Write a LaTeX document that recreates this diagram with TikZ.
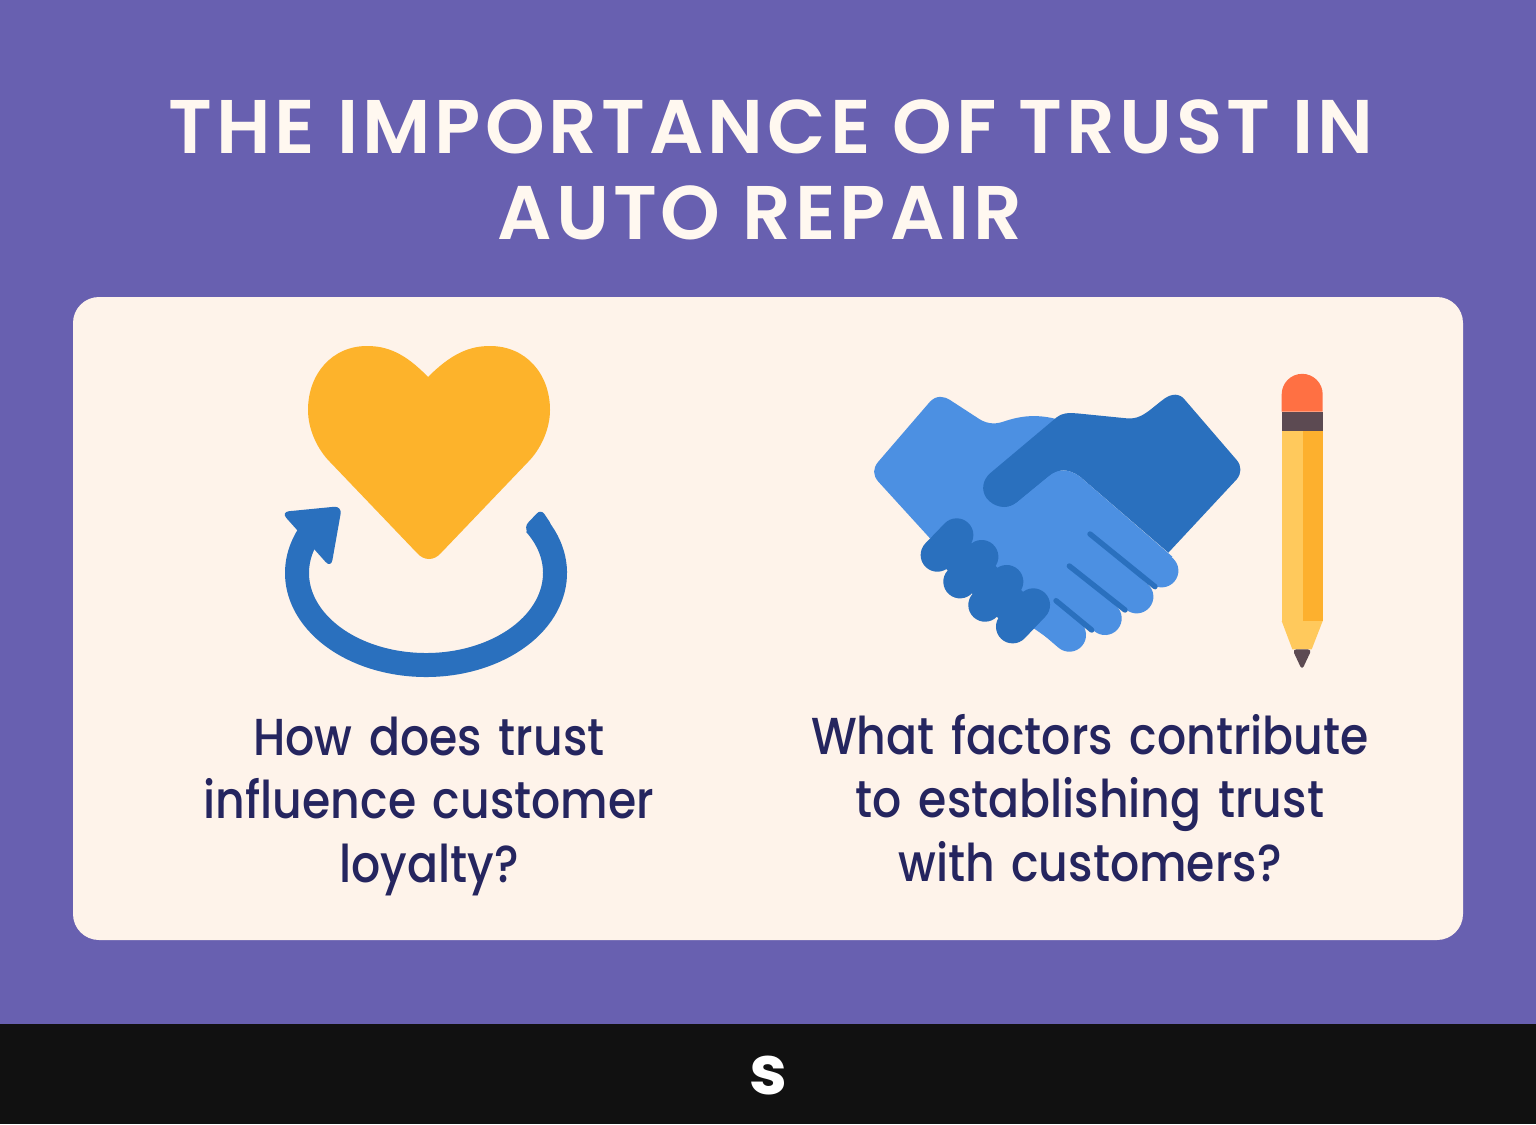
\documentclass[tikz,border=0pt]{standalone}
\usepackage{fontspec}
\setmainfont{Poppins}
\newfontfamily\titlefont[LetterSpace=5.3]{Poppins SemiBold}
\newfontfamily\askfont[FakeStretch=0.88,WordSpace=1.4]{Poppins Medium}
\definecolor{bgpurple}{HTML}{6860B0}
\definecolor{cardcream}{HTML}{FEF3EA}
\definecolor{inknavy}{HTML}{25255F}
\definecolor{barblack}{HTML}{111111}
\definecolor{titlewhite}{HTML}{FFF8F0}
\definecolor{heartgold}{HTML}{FDB32B}
\definecolor{handdark}{HTML}{2A70BE}
\definecolor{handlight}{HTML}{4C90E2}
\definecolor{eraser}{HTML}{FF7043}
\definecolor{ferrule}{HTML}{5C4A52}
\definecolor{pencillight}{HTML}{FFC95C}
\definecolor{pencildark}{HTML}{FDB02E}
\tikzset{
  titletext/.style={text=titlewhite,font=\titlefont\fontsize{38}{43}\selectfont},
  asktext/.style={text=inknavy,align=center,font=\askfont\fontsize{26}{31.75}\selectfont},
  knuckle/.style={draw=handdark,line width=16.7pt,line cap=round},
  finger/.style={draw=handlight,line width=16.7pt,line cap=round},
  crease/.style={draw=handdark,line width=2.7pt,line cap=round}
}
\begin{document}
\begin{tikzpicture}[x=0.5pt,y=-0.5pt]
  \useasboundingbox (0,0) rectangle (1536,1124);
  \fill[bgpurple] (0,0) rectangle (1536,1024);
  \fill[barblack] (0,1024) rectangle (1536,1124);
  \fill[cardcream,rounded corners=13pt] (73,297) rectangle (1463,940);
  \node[titletext] (headtop) at (771,127) {THE IMPORTANCE OF TRUST IN};
  \node[titletext] (headlow) at (760,213) {AUTO REPAIR};
  % heart and loop
  \fill[heartgold] (428,377) .. controls (405,353) and (387,346) .. (367,346)
    .. controls (332,346) and (308,374) .. (308,410)
    .. controls (308,430) and (318,450) .. (330,462)
    -- (417,553) .. controls (424,561) and (434,561) .. (441,553)
    -- (528,462) .. controls (540,450) and (550,430) .. (550,410)
    .. controls (550,374) and (526,346) .. (490,346)
    .. controls (470,346) and (452,353) .. cycle;
  \draw[handdark,line width=12pt] (426,573) ++(-32:129 and 92)
    arc[start angle=-32,end angle=212,x radius=129,y radius=92];
  \fill[handdark,rounded corners=3pt] (524,527) -- (541,509) -- (553,527) -- (534,542) -- cycle;
  \fill[handdark,rounded corners=4pt] (281,512) -- (342,506) -- (331,568) -- cycle;
  % handshake
  \begin{scope}[shift={(860,360)},x=0.16667pt,y=-0.16667pt]
    \fill[handlight] (210,125) .. controls (230,105) and (250,108) .. (270,120)
      -- (350,172) .. controls (375,190) and (400,195) .. (430,185)
      .. controls (480,168) and (530,160) .. (600,180)
      -- (600,500) -- (210,535) -- (55,365)
      .. controls (38,345) and (38,325) .. (55,305) -- cycle;
    \fill[handdark] (590,172) .. controls (605,160) and (620,158) .. (650,160)
      -- (800,175) .. controls (830,178) and (850,165) .. (870,150)
      -- (905,122) .. controls (935,97) and (960,100) .. (975,120)
      -- (1130,300) .. controls (1145,318) and (1145,340) .. (1130,358)
      -- (925,578) -- (660,350) .. controls (625,325) and (595,325) .. (565,350)
      -- (470,428) .. controls (440,452) and (400,440) .. (380,415)
      .. controls (362,390) and (368,360) .. (390,340) -- cycle;
    \fill[handlight] (470,428) -- (565,350) .. controls (595,325) and (625,325) .. (660,350)
      -- (937,590) -- (600,860) -- (500,790) -- (210,530) -- (340,400)
      .. controls (390,450) and (440,452) .. cycle;
    \foreach \x/\y in {905/632,830/710,735/775,628/825}
      \draw[finger] (\x,\y) -- ++(-250,-215);
    \foreach \x/\y/\u/\v in {690/522/885/680,628/618/795/750,588/722/695/810}
      \draw[crease] (\x,\y) -- (\u,\v);
    \foreach \x/\y/\u/\v in {232/585/290/525,300/665/365/590,375/735/440/665,458/800/520/735}
      \draw[knuckle] (\x,\y) -- (\u,\v);
    \draw[handdark,line width=18pt] (261,555) -- (470,752);
    % pencil
    \fill[eraser] (1265,155) -- (1265,103) arc[start angle=180,end angle=360,radius=61.5] -- (1388,155) -- cycle;
    \fill[ferrule] (1265,155) rectangle (1388,212);
    \fill[pencillight] (1265,212) rectangle (1328,783);
    \fill[pencildark] (1328,212) rectangle (1388,783);
    \fill[pencillight] (1265,783) -- (1388,783) -- (1355,868) -- (1297,868) -- cycle;
    \fill[ferrule,rounded corners=2pt] (1297,868) -- (1355,868) -- (1326,930) -- cycle;
  \end{scope}
  \node[asktext] (loyalty) at (429,806) {How does trust\\influence customer\\loyalty?};
  \node[asktext] (factors) at (1090,798) {What factors contribute\\to establishing trust\\with customers?};
  \node[text=white,font=\bfseries\fontsize{34}{34}\selectfont] (logo) at (768,1076) {s};
\end{tikzpicture}
\end{document}
